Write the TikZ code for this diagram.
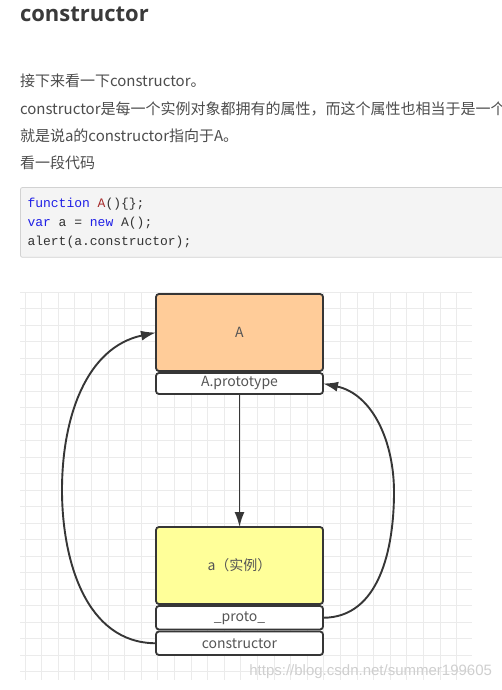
\documentclass[tikz,border=0pt]{standalone}
\usepackage{fontspec}
\usepackage{xcolor}
\usepackage{tikz}
\usetikzlibrary{arrows.meta,positioning}

\newfontfamily\cjk{Noto Sans CJK SC}
\newfontfamily\headfont{Open Sans}
\newfontfamily\codefont{Liberation Mono}
\newfontfamily\markfont{Liberation Sans}

\definecolor{bodytext}{HTML}{4D4D4D}
\definecolor{headtext}{HTML}{3A3A3A}
\definecolor{gridgray}{HTML}{EBEBEB}
\definecolor{codebg}{HTML}{F4F4F4}
\definecolor{codeedge}{HTML}{D2D2D2}
\definecolor{kwblue}{HTML}{1F1FE6}
\definecolor{namered}{HTML}{A52A2A}
\definecolor{codetext}{HTML}{333333}
\definecolor{classorange}{HTML}{FFCC99}
\definecolor{instyellow}{HTML}{FFFF99}
\definecolor{edgegray}{HTML}{363636}
\definecolor{labelgray}{HTML}{555555}
\definecolor{markgray}{HTML}{CFCFCF}

\begin{document}
\begin{tikzpicture}[x=1pt,y=-1pt,
    every node/.style={inner sep=0pt,outer sep=0pt},
    para/.style={anchor=base west,text=bodytext,font=\cjk\fontsize{15}{18}\selectfont},
    code/.style={anchor=base west,text=codetext,font=\codefont\fontsize{13}{15}\selectfont},
    block/.style={draw=edgegray,line width=1.8pt,rounded corners=3pt,minimum width=167pt,
      text=labelgray,font=\cjk\fontsize{14}{16}\selectfont},
    head/.style={block,minimum height=77pt},
    field/.style={block,fill=white,minimum height=23.5pt},
    link/.style={draw=edgegray,line width=1.9pt,-{Latex[length=15pt,width=10pt]}}]

  \clip (0,0) rectangle (502,690);
  \fill[white] (0,0) rectangle (502,690);

  % text above the code
  \node[anchor=base west,text=headtext,font=\headfont\bfseries\fontsize{22}{26}\selectfont] (title) at (20,21.7) {constructor};
  \node[para] (line1) at (20,87) {接下来看一下constructor。};
  \node[para] (line2) at (20,114.3) {constructor是每一个实例对象都拥有的属性，而这个属性也相当于是一个};
  \node[para] (line3) at (20,141.7) {就是说a的constructor指向于A。};
  \node[para] (line4) at (20,168) {看一段代码};

  % code block
  \draw[codeedge,fill=codebg,rounded corners=2pt,line width=0.8pt] (20.5,187.5) rectangle (520,257.3);
  \node[code] (code1) at (27.5,207.3) {\textcolor{kwblue}{function} \textcolor{namered}{A}()\{\};};
  \node[code] (code2) at (27.5,226.3) {\textcolor{kwblue}{var} a = \textcolor{kwblue}{new} A();};
  \node[code] (code3) at (27.5,245.7) {alert(a.constructor);};

  % grid
  \foreach \j in {0,...,23}
    \draw[gridgray,line width=0.8pt] (20,292.3+16.5*\j) -- (472,292.3+16.5*\j);
  \foreach \i in {0,...,26}
    \draw[gridgray,line width=0.8pt] (25+16.6*\i,292) -- (25+16.6*\i,680);

  % the two objects
  \node[head,fill=classorange] (A) at (239.5,332.5) {A};
  \node[field,minimum height=21pt,below=2pt of A] (Aproto) {A.prototype};
  \node[head,fill=instyellow,below=133pt of Aproto] (inst) {a（实例）};
  \node[field,below=2pt of inst] (proto) {\_proto\_};
  \node[field,below=2pt of proto] (ctor) {constructor};

  \coordinate (leftbend) at (62,490);
  \coordinate (rightbend) at (394,492);

  \draw[link] (Aproto) -- (inst);
  \draw[link] (ctor.west) to[out=180,in=-90] (leftbend) to[out=90,in=192] (A.west);
  \draw[link] (proto.east) to[out=0,in=-90] (rightbend) to[out=90,in=-12] (Aproto.east);

  \node[anchor=east,text=markgray,font=\markfont\fontsize{15}{17}\selectfont] (mark) at (492,672) {https://blog.csdn.net/summer199605};
\end{tikzpicture}
\end{document}
